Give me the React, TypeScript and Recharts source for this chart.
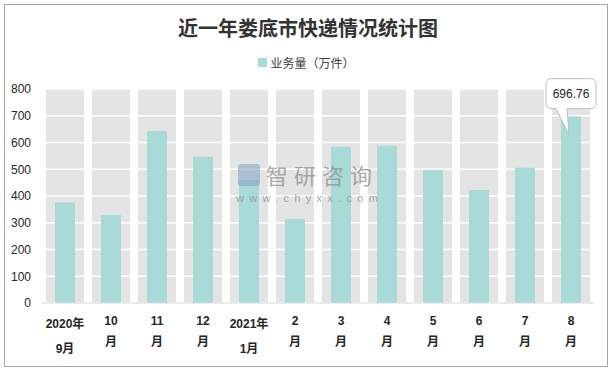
import React from 'react';
import { BarChart, Bar, XAxis, YAxis, CartesianGrid, Legend, LabelList } from 'recharts';

// 近一年娄底市快递业务量（万件）
const months = ['2020年9月', '10月', '11月', '12月', '2021年1月', '2月', '3月', '4月', '5月', '6月', '7月', '8月'];
const volume = [376, 329, 643, 547, 460, 314, 584, 588, 497, 422, 506, 696.76];
const yTicks = [0, 100, 200, 300, 400, 500, 600, 700, 800];

const barColor = '#a8dbd8';
const colColor = '#e4e4e4';
const cjk = '"Liberation Sans", "Noto Sans CJK SC", sans-serif';

const data = months.map((m, i) => ({ month: m, volume: volume[i] }));

// two-line month labels like Excel's wrapped axis text
const MonthTick = (props: any) => {
  const { x, y, payload } = props;
  const label: string = payload.value;
  const m = label.match(/^(\d{4}年)(.+)$/);
  const lines = m ? [m[1], m[2]] : [label.replace('月', ''), '月'];
  const dys = m ? [13, 38] : [10, 31];
  return (
    <g>
      {lines.map((t, i) => (
        <text key={i} x={x} y={y + dys[i]} textAnchor="middle" dominantBaseline="central"
          fontSize={12} fontWeight="bold" fill="#262626" fontFamily={cjk}>
          {t}
        </text>
      ))}
    </g>
  );
};

// callout bubble on the latest month only
const Callout = (props: any) => {
  const { x, y, width, value, index } = props;
  if (index !== months.length - 1) return null;
  const cx = x + width / 2;
  const bw = 50, bh = 30;
  const bx = cx - bw / 2, by = y - 38;
  return (
    <g>
      <path
        d={`M${bx + 10},${by + bh} L${cx - 2},${y + 18} L${bx + 21},${by + bh}`}
        fill="#fff" stroke="#bfbfbf" strokeWidth={1} />
      <rect x={bx} y={by} width={bw} height={bh} rx={5} fill="#fff" stroke="#bfbfbf" />
      <rect x={bx + 10.5} y={by + bh - 2} width={10} height={3} fill="#fff" />
      <text x={cx} y={by + bh / 2} textAnchor="middle" dominantBaseline="central"
        fontSize={12} fill="#262626" fontFamily={cjk}>{value}</text>
    </g>
  );
};

const LegendContent = () => (
  <div style={{ display: 'flex', justifyContent: 'center', alignItems: 'center', height: 20,
    fontSize: 12, color: '#404040', fontFamily: cjk }}>
    <span style={{ display: 'inline-block', width: 9, height: 9, background: barColor, marginRight: 3 }} />
    业务量（万件）
  </div>
);

export default function App() {
  return (
    <div style={{ position: 'absolute', left: 0, top: 0, width: 613, height: 370, background: '#fff' }}>
      <div style={{ position: 'absolute', left: 4, top: 4, width: 602, height: 361, border: '1px solid #a6a6a6' }} />
      <div style={{ position: 'absolute', left: 0, top: 14, width: 616, textAlign: 'center',
        fontSize: 20, fontWeight: 'bold', color: '#333', fontFamily: '"Noto Sans CJK SC", sans-serif', lineHeight: '28px' }}>
        近一年娄底市快递情况统计图
      </div>
      <BarChart width={613} height={370} data={data}
        margin={{ top: 69, right: 19, bottom: 7, left: 0 }}>
        <XAxis xAxisId="bg" dataKey="month" hide />
        <XAxis dataKey="month" height={60} axisLine={{ stroke: '#d9d9d9' }} tickLine={false}
          interval={0} tick={<MonthTick />} />
        <YAxis domain={[0, 800]} ticks={yTicks} width={42} axisLine={false} tickLine={false}
          tickMargin={5} tick={{ fontSize: 12, fill: '#262626', fontFamily: cjk }} />
        <Legend verticalAlign="top" wrapperStyle={{ top: 52, left: 0, width: 613 }} content={<LegendContent />} />
        <Bar xAxisId="bg" dataKey="volume" barSize={38} fill="none" legendType="none"
          background={{ fill: colColor }} isAnimationActive={false} />
        {/* white gridlines sit above the grey columns but under the teal bars */}
        <CartesianGrid vertical={false} stroke="#ffffff" strokeWidth={1.5} {...({ zIndex: 250 } as any)} />
        <Bar dataKey="volume" name="业务量（万件）" barSize={20} fill={barColor} isAnimationActive={false}>
          <LabelList dataKey="volume" content={<Callout />} />
        </Bar>
      </BarChart>
      <div style={{ position: 'absolute', left: 238, top: 164, width: 22, height: 22, background: '#7f9fc0',
        opacity: 0.55, borderRadius: 3 }} />
      <div style={{ position: 'absolute', left: 266, top: 163, fontSize: 22, color: '#8a8a8a', opacity: 0.7,
        fontFamily: '"Noto Sans CJK SC", sans-serif', letterSpacing: 6, lineHeight: '22px' }}>
        智研咨询
      </div>
      <div style={{ position: 'absolute', left: 236, top: 193, fontSize: 11, color: '#8a8a8a', opacity: 0.7,
        fontFamily: cjk, letterSpacing: 5.3, lineHeight: '11px' }}>
        www.chyxx.com
      </div>
    </div>
  );
}
